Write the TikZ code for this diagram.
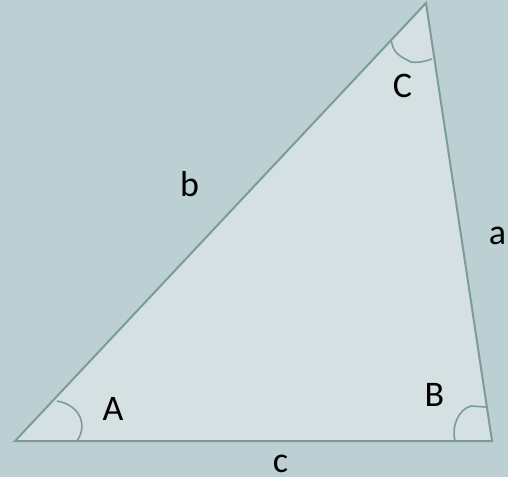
\documentclass[tikz,border=0pt]{standalone}
\usepackage{fontspec}
\setmainfont{Carlito}
\definecolor{bg}{HTML}{BCCFD3}
\definecolor{tri}{HTML}{D5E0E2}
\definecolor{edge}{HTML}{7E9B9B}
\begin{document}
\begin{tikzpicture}[x=1pt,y=-1pt,
  side/.style={draw=edge,line width=2pt,line join=miter},
  anglemark/.style={draw=edge,line width=1.6pt},
  lbl/.style={font=\fontsize{36}{40}\selectfont,text=black,inner sep=0pt}]
\fill[bg] (0,0) rectangle (508,477);
\useasboundingbox (0,0) rectangle (508,477);
\coordinate (A) at (15,441);
\coordinate (B) at (492,441);
\coordinate (C) at (426,3);
\filldraw[side,fill=tri] (A) -- (B) -- (C) -- cycle;
% angle marks
\draw[anglemark] (57,401) .. controls (80,405) and (88,425) .. (77,441);
\draw[anglemark] (455,441) .. controls (451,426) and (459,409) .. (471,406) -- (486,407);
\draw[anglemark] (391,39) .. controls (393,52) and (397,55) .. (411,62) .. controls (420,63) and (426,61) .. (432,59);
% labels
\node[lbl] (lA) at (113,409) {A};
\node[lbl] (lB) at (434.5,395) {B};
\node[lbl] (lC) at (402.5,85.5) {C};
\node[lbl] (la) at (497.5,236) {a};
\node[lbl] (lb) at (189.5,184) {b};
\node[lbl] (lc) at (280.5,464) {c};
\end{tikzpicture}
\end{document}
